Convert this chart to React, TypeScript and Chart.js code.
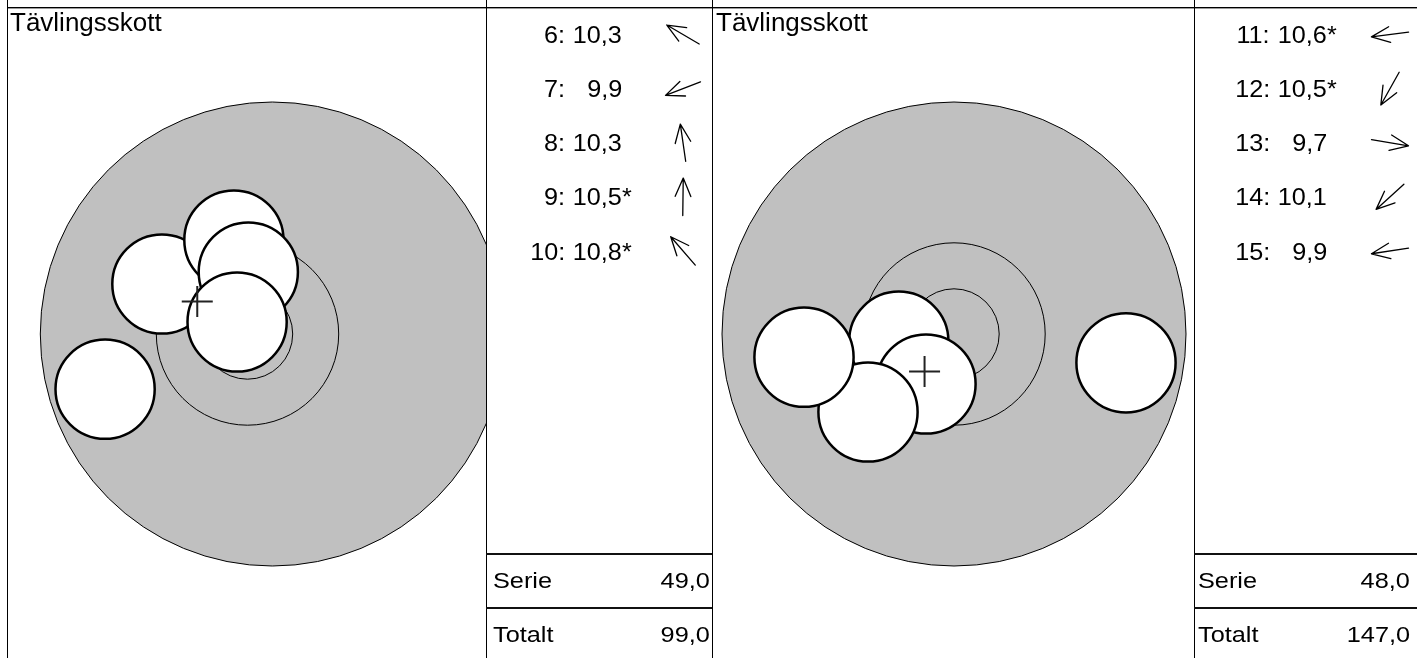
import React, { useEffect, useRef } from "react";
import { Chart, registerables } from "chart.js";

Chart.register(...registerables);

// ---------- data ----------
const TITLE = "Tävlingsskott";
const SERIE_LABEL = "Serie";
const TOTAL_LABEL = "Totalt";

// target geometry in target units (y up, ring centre = 0,0)
const ringRadii = [11.4, 5.65];
const blackRadius = 29;
const blackCenterX = [3.1, 0];
const shotRadius = 6.2;

// panel A (shots 6-10)
const shotNoA = [6, 7, 8, 9, 10];
const shotScoreA = [10.3, 9.9, 10.3, 10.5, 10.8];
const shotInnerA = [false, false, false, true, true];
const shotXA = [-10.7, -17.8, -1.7, 0.1, -1.3];
const shotYA = [6.25, -6.9, 11.75, 7.75, 1.5];

// panel B (shots 11-15)
const shotNoB = [11, 12, 13, 14, 15];
const shotScoreB = [10.6, 10.5, 9.7, 10.1, 9.9];
const shotInnerB = [true, true, false, false, false];
const shotXB = [-6.9, -3.5, 21.5, -10.75, -18.75];
const shotYB = [-0.9, -6.25, -3.6, -9.75, -2.9];

const serieScores = [49.0, 48.0];
const totalScores = [99.0, 147.0];

// ---------- layout ----------
const W = 1417;
const H = 658;
const FONT = '"Liberation Sans", Arial, Helvetica, sans-serif';
const PX_PER_UNIT = 8;
const CANVAS_TOP = 8;
const CANVAS_H = 650;
const ROW0_BASE = 43.5;
const ROW_STEP = 54.1;
const ARROW_LEN = 37.5;
const HEAD_LEN = 20;
const HEAD_ANGLE = (23 * Math.PI) / 180;

const fmt = (v: number) => v.toFixed(1).replace(".", ",");

type ChartProps = {
  left: number;
  chartW: number;
  canvasW: number;
  cx: number; // ring centre in canvas px
  cy: number;
  arrowX: number; // canvas px
  xs: number[];
  ys: number[];
  blackCx: number;
};

function TargetChart(p: ChartProps) {
  const ref = useRef<HTMLCanvasElement>(null);
  useEffect(() => {
    const k = PX_PER_UNIT;
    const { xs, ys } = p;
    const meanX = xs.reduce((a, b) => a + b, 0) / xs.length;
    const meanY = ys.reduce((a, b) => a + b, 0) / ys.length;
    const rpx = (c: any, r: number) =>
      Math.abs(c.scales.x.getPixelForValue(r) - c.scales.x.getPixelForValue(0));

    const arrowPlugin = {
      id: "shotArrows",
      afterDraw(chart: any) {
        const ctx = chart.ctx;
        ctx.save();
        ctx.strokeStyle = "#000";
        ctx.lineWidth = 1.3;
        ctx.lineCap = "round";
        xs.forEach((x, i) => {
          const len = Math.hypot(x, ys[i]) || 1;
          const dx = x / len;
          const dy = -ys[i] / len;
          const mx = p.arrowX;
          const my = ROW0_BASE - 9 - CANVAS_TOP + ROW_STEP * i;
          const tx = mx + (dx * ARROW_LEN) / 2;
          const ty = my + (dy * ARROW_LEN) / 2;
          const bx = mx - (dx * ARROW_LEN) / 2;
          const by = my - (dy * ARROW_LEN) / 2;
          ctx.beginPath();
          ctx.moveTo(bx, by);
          ctx.lineTo(tx, ty);
          const base = Math.atan2(dy, dx) + Math.PI;
          for (const s of [-1, 1]) {
            const a = base + s * HEAD_ANGLE;
            ctx.moveTo(tx, ty);
            ctx.lineTo(tx + Math.cos(a) * HEAD_LEN, ty + Math.sin(a) * HEAD_LEN);
          }
          ctx.stroke();
        });
        ctx.restore();
      },
    };

    const chart = new Chart(ref.current as HTMLCanvasElement, {
      type: "scatter",
      data: {
        datasets: [
          {
            data: [{ x: p.blackCx, y: 0 }],
            order: 4,
            clip: 0,
            pointRadius: (c: any) => rpx(c.chart, blackRadius),
            pointBackgroundColor: "#c0c0c0",
            pointBorderColor: "#000",
            pointBorderWidth: 1,
          } as any,
          {
            data: ringRadii.map(() => ({ x: 0, y: 0 })),
            order: 3,
            clip: 0,
            pointRadius: (c: any) => rpx(c.chart, ringRadii[c.dataIndex]),
            pointBackgroundColor: "rgba(0,0,0,0)",
            pointBorderColor: "#000",
            pointBorderWidth: 1,
          } as any,
          {
            data: xs.map((x, i) => ({ x, y: ys[i] })),
            order: 2,
            clip: 0,
            pointRadius: (c: any) => rpx(c.chart, shotRadius),
            pointBackgroundColor: "#fff",
            pointBorderColor: "#000",
            pointBorderWidth: 2.5,
          } as any,
          {
            data: [{ x: meanX, y: meanY }],
            order: 1,
            clip: 0,
            pointStyle: "cross",
            pointRadius: 15.5,
            pointBorderColor: "#222",
            pointBorderWidth: 2,
          } as any,
        ],
      },
      options: {
        responsive: false,
        maintainAspectRatio: false,
        animation: false,
        events: [],
        layout: {
          autoPadding: false,
          padding: { left: 0, top: 0, bottom: 0, right: p.canvasW - p.chartW },
        },
        plugins: { legend: { display: false }, tooltip: { enabled: false } },
        scales: {
          x: { type: "linear", display: false, min: -p.cx / k, max: (p.chartW - p.cx) / k },
          y: { type: "linear", display: false, min: -(CANVAS_H - p.cy) / k, max: p.cy / k },
        },
      } as any,
      plugins: [arrowPlugin],
    });
    return () => chart.destroy();
  }, []);
  return (
    <canvas
      ref={ref}
      width={p.canvasW}
      height={CANVAS_H}
      style={{ position: "absolute", left: p.left, top: CANVAS_TOP, width: p.canvasW, height: CANVAS_H }}
    />
  );
}

function Txt(props: {
  x: number;
  base: number;
  size: number;
  align?: "left" | "right";
  sx?: number;
  children: any;
}) {
  const { x, base, size, align = "left", sx = 1 } = props;
  const style: any = {
    position: "absolute",
    top: base - 0.8465 * size,
    fontSize: size,
    lineHeight: `${size}px`,
    fontFamily: FONT,
    whiteSpace: "nowrap",
    color: "#000",
    transform: `scaleX(${sx})`,
    transformOrigin: align === "left" ? "left center" : "right center",
  };
  if (align === "left") style.left = x;
  else style.right = W - x;
  return <div style={style}>{props.children}</div>;
}

function Line(props: { x: number; y: number; w: number; h: number; c?: string }) {
  return (
    <div
      style={{
        position: "absolute",
        left: props.x,
        top: props.y,
        width: props.w,
        height: props.h,
        background: props.c || "#000",
      }}
    />
  );
}

function ShotList(props: {
  nos: number[];
  scores: number[];
  inner: boolean[];
  colonEnd: number;
  valueEnd: number;
}) {
  return (
    <>
      {props.nos.map((n, i) => {
        const base = ROW0_BASE + ROW_STEP * i;
        return (
          <React.Fragment key={n}>
            <Txt x={props.colonEnd} base={base} size={24} align="right" sx={1.05}>
              {n}:
            </Txt>
            <Txt x={props.valueEnd} base={base} size={24} align="right" sx={1.05}>
              {fmt(props.scores[i])}
            </Txt>
            {props.inner[i] ? (
              <Txt x={props.valueEnd} base={base} size={24} sx={1.05}>
                *
              </Txt>
            ) : null}
          </React.Fragment>
        );
      })}
    </>
  );
}

export default function App() {
  return (
    <div
      style={{
        position: "absolute",
        left: 0,
        top: 0,
        width: W,
        height: H,
        overflow: "hidden",
        background: "#fff",
      }}
    >
      <TargetChart
        left={8}
        chartW={478}
        canvasW={704}
        cx={247.5 - 8}
        cy={334 - CANVAS_TOP}
        arrowX={683 - 8}
        xs={shotXA}
        ys={shotYA}
        blackCx={blackCenterX[0]}
      />
      <TargetChart
        left={713}
        chartW={481}
        canvasW={704}
        cx={954 - 713}
        cy={334 - CANVAS_TOP}
        arrowX={1390 - 713}
        xs={shotXB}
        ys={shotYB}
        blackCx={blackCenterX[1]}
      />

      {/* grid lines */}
      <Line x={7} y={7} w={W - 7} h={1} />
      <Line x={7} y={8} w={W - 7} h={1} c="#9a9a9a" />
      <Line x={7} y={0} w={1} h={H} />
      <Line x={486} y={0} w={1} h={H} />
      <Line x={712} y={0} w={1} h={H} />
      <Line x={1194} y={0} w={1} h={H} />
      <Line x={486} y={553} w={226} h={2} c="#111" />
      <Line x={486} y={607} w={226} h={2} c="#111" />
      <Line x={1194} y={553} w={W - 1194} h={2} c="#111" />
      <Line x={1194} y={607} w={W - 1194} h={2} c="#111" />

      {/* titles */}
      <Txt x={10} base={31} size={25} sx={1.04}>
        {TITLE}
      </Txt>
      <Txt x={716} base={31} size={25} sx={1.04}>
        {TITLE}
      </Txt>

      <ShotList nos={shotNoA} scores={shotScoreA} inner={shotInnerA} colonEnd={565} valueEnd={622} />
      <ShotList nos={shotNoB} scores={shotScoreB} inner={shotInnerB} colonEnd={1270} valueEnd={1327} />

      {/* score table */}
      <Txt x={492.5} base={588.3} size={22} sx={1.15}>
        {SERIE_LABEL}
      </Txt>
      <Txt x={710} base={588.3} size={22} align="right" sx={1.15}>
        {fmt(serieScores[0])}
      </Txt>
      <Txt x={492.5} base={642.7} size={22} sx={1.15}>
        {TOTAL_LABEL}
      </Txt>
      <Txt x={710} base={642.7} size={22} align="right" sx={1.15}>
        {fmt(totalScores[0])}
      </Txt>
      <Txt x={1198} base={588.3} size={22} sx={1.15}>
        {SERIE_LABEL}
      </Txt>
      <Txt x={1410} base={588.3} size={22} align="right" sx={1.15}>
        {fmt(serieScores[1])}
      </Txt>
      <Txt x={1198} base={642.7} size={22} sx={1.15}>
        {TOTAL_LABEL}
      </Txt>
      <Txt x={1410} base={642.7} size={22} align="right" sx={1.15}>
        {fmt(totalScores[1])}
      </Txt>
    </div>
  );
}
